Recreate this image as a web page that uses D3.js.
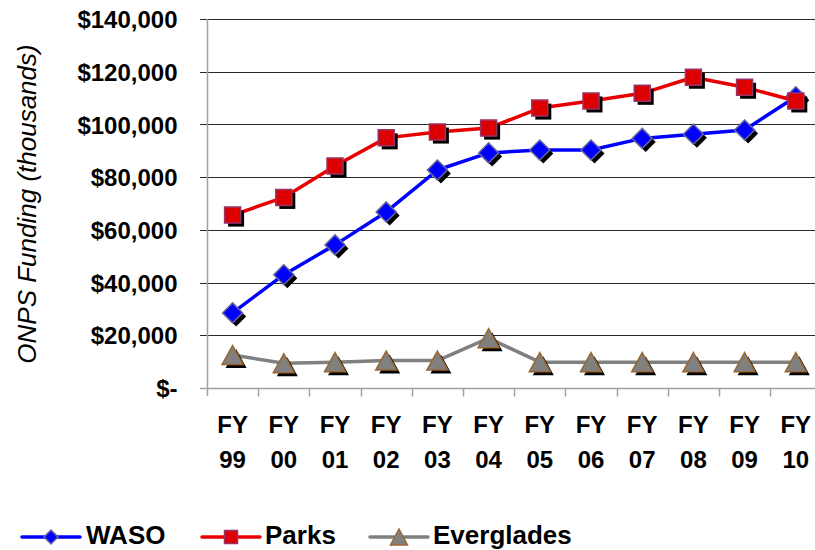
<!DOCTYPE html>
<html>
<head>
<meta charset="utf-8">
<script src="https://cdn.jsdelivr.net/npm/d3@7"></script>
<style>
  html, body { margin: 0; padding: 0; background: #ffffff; }
  svg { display: block; }
  text { font-family: "Liberation Sans", Arial, Helvetica, sans-serif; }
</style>
</head>
<body>
<svg id="chart" width="815" height="550"></svg>
<script>
// Fiscal years on the category axis
const categories = ["FY99", "FY00", "FY01", "FY02", "FY03", "FY04", "FY05", "FY06", "FY07", "FY08", "FY09", "FY10"];
const yearLabels = ["99", "00", "01", "02", "03", "04", "05", "06", "07", "08", "09", "10"];

// ONPS funding, in thousands of dollars
const wasoValues = [28500, 43000, 54300, 66800, 82700, 89200, 90300, 90300, 94700, 96300, 97900, 110500];
const parksValues = [65600, 72300, 84200, 94900, 97100, 98600, 106200, 108900, 111800, 117900, 114100, 108900];
const evergladesValues = [12500, 9400, 9800, 10400, 10400, 18900, 9800, 9800, 9800, 9800, 9800, 9800];

const yTickValues = [0, 20000, 40000, 60000, 80000, 100000, 120000, 140000];

const seriesNames = ["WASO", "Parks", "Everglades"];

const svg = d3.select("#chart");

const plot = { left: 207, top: 19, bottom: 388, band: 51.2 };

const x = d3.scaleBand()
  .domain(categories)
  .range([plot.left, plot.left + plot.band * categories.length]);

const y = d3.scaleLinear()
  .domain([0, 140000])
  .range([plot.bottom, plot.top]);

const fmt = d3.format(",");
const tickText = v => v === 0 ? "$-" : "$" + fmt(v);

// Horizontal gridlines (left end doubles as the tick mark)
svg.append("g")
  .selectAll("line")
  .data(yTickValues.filter(v => v > 0))
  .join("line")
  .attr("x1", plot.left - 7)
  .attr("x2", 815)
  .attr("y1", d => Math.round(y(d)) + 0.5)
  .attr("y2", d => Math.round(y(d)) + 0.5)
  .attr("stroke", "#2a2a2a")
  .attr("stroke-width", 1);

// Category axis with tick marks at band boundaries
const xAxis = d3.axisBottom(x).tickSize(0).tickFormat("");
const gx = svg.append("g")
  .attr("transform", `translate(0,${Math.round(plot.bottom) + 0.5})`)
  .call(xAxis);
gx.select(".domain").remove();
gx.append("line")
  .attr("x1", plot.left - 7).attr("x2", 815)
  .attr("stroke", "#a0a0a0").attr("stroke-width", 1.5);
gx.selectAll(".boundary")
  .data(categories.slice(1))
  .join("line")
  .attr("class", "boundary")
  .attr("x1", d => Math.round(x(d)) + 0.5)
  .attr("x2", d => Math.round(x(d)) + 0.5)
  .attr("y1", 0).attr("y2", 8)
  .attr("stroke", "#a0a0a0").attr("stroke-width", 1.5);

// Two-line category labels
const labelGroup = svg.append("g")
  .attr("font-size", 24)
  .attr("font-weight", "bold")
  .attr("text-anchor", "middle")
  .attr("fill", "#000");
categories.forEach((c, i) => {
  const cx = x(c) + x.bandwidth() / 2;
  labelGroup.append("text").attr("x", cx).attr("y", 433).text("FY");
  labelGroup.append("text").attr("x", cx).attr("y", 468).text(yearLabels[i]);
});

// Value axis
const yAxis = d3.axisLeft(y).tickValues(yTickValues).tickSize(0).tickPadding(0).tickFormat(tickText);
const gy = svg.append("g")
  .attr("transform", `translate(${plot.left + 0.5},0)`)
  .call(yAxis);
gy.select(".domain").remove();
gy.append("line")
  .attr("y1", plot.top).attr("y2", plot.bottom + 8)
  .attr("stroke", "#a0a0a0").attr("stroke-width", 1.5);
gy.selectAll(".tick text")
  .attr("x", 177 - plot.left)
  .attr("dy", "0.36em")
  .attr("font-size", 24)
  .attr("font-weight", "bold")
  .attr("font-family", "'Liberation Sans', Arial, sans-serif")
  .attr("fill", "#000");

// Axis title
svg.append("text")
  .attr("transform", "translate(36,204) rotate(-90)")
  .attr("text-anchor", "middle")
  .attr("font-size", 26)
  .attr("font-style", "italic")
  .attr("fill", "#000")
  .text("ONPS Funding (thousands)");

// Marker shapes
function diamondPath(r) { return `M0,${-r}L${r},0L0,${r}L${-r},0Z`; }
function squarePath(h) { return `M${-h},${-h}H${h}V${h}H${-h}Z`; }
function trianglePath(w, h) { return `M0,${-h / 2}L${w / 2},${h / 2}L${-w / 2},${h / 2}Z`; }

const series = [
  { name: seriesNames[0], values: wasoValues, line: "#0000ff", fill: "#0000ff", stroke: "#666699",
    shape: diamondPath(10), legendShape: diamondPath(7) },
  { name: seriesNames[1], values: parksValues, line: "#e80000", fill: "#dd0000", stroke: "#993366",
    shape: squarePath(8), legendShape: squarePath(6.5) },
  { name: seriesNames[2], values: evergladesValues, line: "#808080", fill: "#808080", stroke: "#996633",
    shape: trianglePath(21, 19), legendShape: trianglePath(17, 16) }
];

const lineGen = d3.line()
  .x((d, i) => x(categories[i]) + x.bandwidth() / 2)
  .y(d => y(d));

series.forEach(s => {
  const g = svg.append("g");
  g.append("path")
    .attr("d", lineGen(s.values))
    .attr("fill", "none")
    .attr("stroke", s.line)
    .attr("stroke-width", 3.5)
    .attr("stroke-linejoin", "round");
  const pts = s.values.map((v, i) => ({ cx: x(categories[i]) + x.bandwidth() / 2, cy: y(v) }));
  // drop shadows
  g.selectAll(".shadow")
    .data(pts)
    .join("path")
    .attr("class", "shadow")
    .attr("d", s.shape)
    .attr("transform", d => `translate(${d.cx + 3.5},${d.cy + 3.5})`)
    .attr("fill", "#000");
  g.selectAll(".marker")
    .data(pts)
    .join("path")
    .attr("class", "marker")
    .attr("d", s.shape)
    .attr("transform", d => `translate(${d.cx},${d.cy})`)
    .attr("fill", s.fill)
    .attr("stroke", s.stroke)
    .attr("stroke-width", 1.5);
});

// Legend
const legendItems = [
  { x1: 22, x2: 80, text: 86 },
  { x1: 202, x2: 260, text: 265 },
  { x1: 370, x2: 428, text: 433 }
];
const legendY = 537;
const legend = svg.append("g");
series.forEach((s, i) => {
  const li = legendItems[i];
  legend.append("line")
    .attr("x1", li.x1).attr("x2", li.x2)
    .attr("y1", legendY).attr("y2", legendY)
    .attr("stroke", s.line).attr("stroke-width", 3.5)
    .attr("stroke-linecap", "round");
  legend.append("path")
    .attr("d", s.legendShape)
    .attr("transform", `translate(${(li.x1 + li.x2) / 2},${legendY})`)
    .attr("fill", s.fill)
    .attr("stroke", s.stroke)
    .attr("stroke-width", 1.5);
  legend.append("text")
    .attr("x", li.text)
    .attr("y", 544)
    .attr("font-size", 26)
    .attr("font-weight", "bold")
    .attr("fill", "#000")
    .text(s.name);
});
</script>
</body>
</html>
